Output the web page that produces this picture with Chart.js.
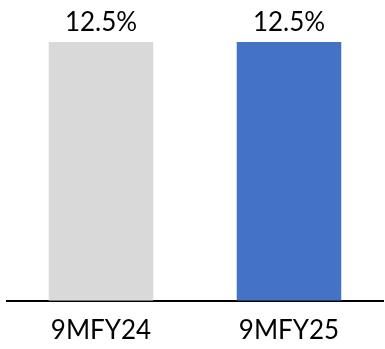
<!DOCTYPE html>
<html>
<head>
<meta charset="utf-8">
<script src="https://cdn.jsdelivr.net/npm/chart.js@4"></script>
<style>
  html, body { margin: 0; padding: 0; background: #fff; }
  #wrap { width: 385px; height: 349px; }
</style>
</head>
<body>
<div id="wrap"><canvas id="chart" width="385" height="349"></canvas></div>
<script>
const categories = ["9MFY24", "9MFY25"];
const values = [12.5, 12.5];
const barColors = ["#d9d9d9", "#4472c4"];

// prints the value above each bar
const valueLabels = {
  id: "valueLabels",
  afterDatasetsDraw(chart) {
    const ctx = chart.ctx;
    const meta = chart.getDatasetMeta(0);
    ctx.save();
    ctx.font = "26px Lato";
    ctx.fillStyle = "#000";
    ctx.textAlign = "center";
    ctx.textBaseline = "alphabetic";
    meta.data.forEach(function(bar, i) {
      ctx.fillText(values[i].toFixed(1) + "%", bar.x, bar.y - 11);
    });
    ctx.restore();
  }
};

const ctx = document.getElementById("chart").getContext("2d");
new Chart(ctx, {
  type: "bar",
  data: {
    labels: categories,
    datasets: [{
      data: values,
      backgroundColor: barColors,
      borderWidth: 0,
      categoryPercentage: 1,
      barPercentage: 0.556
    }]
  },
  options: {
    responsive: false,
    animation: false,
    layout: { padding: { top: 42, left: 7, right: 2, bottom: -11 } },
    plugins: {
      legend: { display: false },
      tooltip: { enabled: false }
    },
    scales: {
      x: {
        grid: { display: false, drawTicks: false },
        border: { display: true, color: "#000", width: 2 },
        ticks: {
          color: "#000",
          padding: 14,
          font: { family: "Lato", size: 26 }
        }
      },
      y: {
        display: false,
        min: 0,
        max: 12.5
      }
    }
  },
  plugins: [valueLabels]
});
</script>
</body>
</html>
